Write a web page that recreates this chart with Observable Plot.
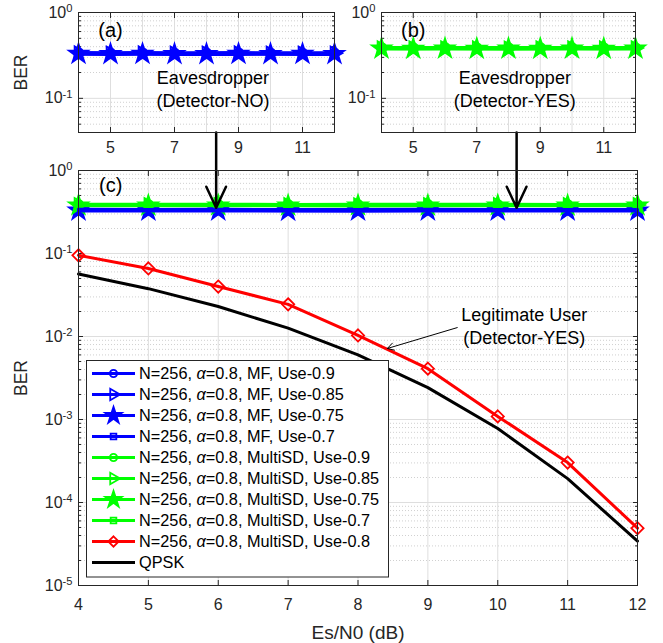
<!DOCTYPE html>
<html><head><meta charset="utf-8">
<script src="https://cdn.jsdelivr.net/npm/d3@7"></script>
<script src="https://cdn.jsdelivr.net/npm/@observablehq/plot@0.6"></script>
<style>
body{margin:0;background:#fff;}
#wrap{position:relative;width:663px;height:643px;overflow:hidden;font-family:"Liberation Sans",Arial,Helvetica,sans-serif;}
#wrap svg{position:absolute;}
</style></head><body><div id="wrap"></div>
<script>
// ---------- data ----------
const esn0 = [4, 5, 6, 7, 8, 9, 10, 11, 12];
const mfUse090 = [0.342, 0.340, 0.341, 0.339, 0.340, 0.341, 0.340, 0.339, 0.340];
const mfUse085 = [0.336, 0.335, 0.336, 0.334, 0.335, 0.336, 0.335, 0.334, 0.335];
const mfUse075 = [0.330, 0.329, 0.330, 0.328, 0.329, 0.330, 0.329, 0.330, 0.329];
const mfUse070 = [0.326, 0.325, 0.326, 0.325, 0.324, 0.325, 0.326, 0.325, 0.325];
const sdUse090 = [0.392, 0.391, 0.392, 0.390, 0.391, 0.392, 0.391, 0.390, 0.391];
const sdUse085 = [0.386, 0.385, 0.386, 0.385, 0.384, 0.385, 0.386, 0.385, 0.385];
const sdUse075 = [0.380, 0.379, 0.380, 0.379, 0.380, 0.379, 0.380, 0.379, 0.380];
const sdUse070 = [0.376, 0.375, 0.376, 0.375, 0.374, 0.375, 0.376, 0.375, 0.375];
const sdUse080 = [0.095, 0.066, 0.040, 0.0244, 0.0103, 0.0041, 0.00109, 0.000303, 0.000049];
const qpsk     = [0.0565, 0.0377, 0.0230, 0.0126, 0.0060, 0.00242, 0.00078, 0.000194, 0.0000343];
const seriesLabels = [
  "N=256, α=0.8, MF, Use-0.9",
  "N=256, α=0.8, MF, Use-0.85",
  "N=256, α=0.8, MF, Use-0.75",
  "N=256, α=0.8, MF, Use-0.7",
  "N=256, α=0.8, MultiSD, Use-0.9",
  "N=256, α=0.8, MultiSD, Use-0.85",
  "N=256, α=0.8, MultiSD, Use-0.75",
  "N=256, α=0.8, MultiSD, Use-0.7",
  "N=256, α=0.8, MultiSD, Use-0.8",
  "QPSK"
];
const seriesValues = [mfUse090, mfUse085, mfUse075, mfUse070, sdUse090, sdUse085, sdUse075, sdUse070, sdUse080, qpsk];
const mainXTicks = [4, 5, 6, 7, 8, 9, 10, 11, 12];
const panelXTicks = [5, 7, 9, 11];
const xLabel = "Es/N0 (dB)";
const yLabel = "BER";

// ---------- styles ----------
const FONT = '"Liberation Sans", Arial, Helvetica, sans-serif';
const AX = "#262626";
const GRID = "#dedede";
const MINOR = "#c4c4c4";
const TICKFS = 16, LABELFS = 19, NOTEFS = 18, TAGFS = 20, LEGFS = 16.3;
const styles = [
  {color: "#0000ff", symbol: "circle", r: 4.5, fill: "none"},
  {color: "#0000ff", symbol: "triangle", r: 5, fill: "none", rotate: 90},
  {color: "#0000ff", symbol: "star", r: 6, fill: "#0000ff"},
  {color: "#0000ff", symbol: "square", r: 4, fill: "none"},
  {color: "#00ff00", symbol: "circle", r: 4.5, fill: "none"},
  {color: "#00ff00", symbol: "triangle", r: 5, fill: "none", rotate: 90},
  {color: "#00ff00", symbol: "star", r: 6, fill: "#00ff00"},
  {color: "#00ff00", symbol: "square", r: 4, fill: "none"},
  {color: "#ff0000", symbol: "diamond2", r: 5.5, fill: "none"},
  {color: "#000000", symbol: null}
];
const rowsOf = i => esn0.map((x, j) => ({x, y: seriesValues[i][j]}));

function lineMark(i, w = 3) {
  return Plot.line(rowsOf(i), {x: "x", y: "y", stroke: styles[i].color, strokeWidth: w});
}
function dotMark(i) {
  const s = styles[i];
  return Plot.dot(rowsOf(i), {x: "x", y: "y", symbol: () => s.symbol, r: s.r, stroke: s.color, fill: s.fill,
    strokeWidth: 1.8, rotate: s.rotate || 0});
}
function minorTicks(loExp, hiExp, lo) {
  const out = [];
  for (let e = loExp; e < hiExp; e++) for (let k = 2; k <= 9; k++) { const v = k * Math.pow(10, e); if (v >= lo) out.push(v); }
  return out;
}
const supFmt = d => "10^" + Math.round(Math.log10(d));
function fixSup(svg) {
  svg.querySelectorAll("text").forEach(t => {
    const m = /^10\^(-?\d+)$/.exec(t.textContent.trim());
    if (!m) return;
    t.textContent = "";
    const ns = "http://www.w3.org/2000/svg";
    const a = document.createElementNS(ns, "tspan"); a.textContent = "10"; t.appendChild(a);
    const b = document.createElementNS(ns, "tspan"); b.textContent = m[1];
    b.setAttribute("dy", "-0.5em"); b.setAttribute("font-size", "0.7em"); t.appendChild(b);
  });
}
function place(svg, left, top) {
  svg.style.left = left + "px"; svg.style.top = top + "px";
  fixSup(svg);
  document.getElementById("wrap").appendChild(svg);
}
const blank = () => "";

// ---------- main panel (c) ----------
const yMajor = [1e-5, 1e-4, 1e-3, 1e-2, 1e-1, 1];
const yMinor = minorTicks(-5, 0, 1e-5);
const main = Plot.plot({
  width: 663, height: 643,
  marginTop: 170, marginBottom: 58, marginLeft: 78, marginRight: 26,
  style: {fontFamily: FONT, fontSize: TICKFS + "px", color: AX, background: "transparent", overflow: "visible"},
  x: {domain: [4, 12]},
  y: {type: "log", domain: [1e-5, 1]},
  marks: [
    Plot.ruleY(yMinor, {stroke: MINOR, strokeDasharray: "1,2", strokeWidth: 0.8}),
    Plot.ruleX(mainXTicks, {stroke: GRID}),
    Plot.ruleY(yMajor, {stroke: GRID}),
    Plot.axisX({ticks: mainXTicks, tickSize: -5, tickPadding: 18, fontSize: TICKFS, tickFormat: d => String(d), label: null}),
    Plot.axisX({ticks: [], tickSize: 0, fontSize: LABELFS, label: xLabel, labelAnchor: "center", labelOffset: 53, labelArrow: "none"}),
    Plot.axisX({anchor: "top", ticks: mainXTicks, tickSize: -5, tickFormat: blank, label: null}),
    Plot.axisY({ticks: yMajor, tickSize: -5, tickPadding: 11, fontSize: TICKFS, tickFormat: supFmt, label: null}),
    Plot.axisY({ticks: [], tickSize: 0, fontSize: LABELFS - 1.5, label: yLabel, labelAnchor: "center", labelOffset: 64, labelArrow: "none"}),
    Plot.axisY({ticks: yMinor, tickSize: -3, tickFormat: blank, label: null}),
    Plot.axisY({anchor: "right", ticks: yMajor, tickSize: -5, tickFormat: blank, label: null}),
    Plot.axisY({anchor: "right", ticks: yMinor, tickSize: -3, tickFormat: blank, label: null}),
    [0, 1, 2, 3].map(i => dotMark(i)),
    [4, 5, 6, 7].map(i => lineMark(i)),
    [4, 5, 6, 7].map(i => dotMark(i)),
    [0, 1, 2, 3].map(i => lineMark(i)),
    lineMark(9),
    lineMark(8),
    dotMark(8),
    Plot.text(["(c)"], {x: 4.46, y: 0.66, fontSize: TAGFS, fill: "#000"}),
    Plot.text(["Legitimate User"], {x: 10.38, y: 0.0179, fontSize: NOTEFS, fill: "#000"}),
    Plot.text(["(Detector-YES)"], {x: 10.38, y: 0.00946, fontSize: NOTEFS, fill: "#000"}),
    Plot.arrow([{x1: 9.42, y1: 0.0128, x2: 8.42, y2: 0.00717}], {x1: "x1", y1: "y1", x2: "x2", y2: "y2",
      stroke: "#000", strokeWidth: 1, headLength: 11, insetEnd: 0, insetStart: 0}),
    Plot.arrow([{x1: 5.97, y1: 2.87, x2: 5.97, y2: 0.355}, {x1: 10.27, y1: 2.87, x2: 10.27, y2: 0.355}],
      {x1: "x1", y1: "y1", x2: "x2", y2: "y2", stroke: "#000", strokeWidth: 2.5, headLength: 14, headAngle: 50, insetEnd: 0, insetStart: 0}),
    Plot.frame({stroke: AX})
  ]
});
place(main, 0, 0);

// ---------- top panels (a), (b) ----------
const pMajor = [0.1, 1];
const pMinor = minorTicks(-2, 0, 0.04);
function panel(group, tag, line2, o) {
  return Plot.plot({
    width: o.width, height: 170, marginTop: 12, marginBottom: 38, marginLeft: o.ml, marginRight: o.mr,
    style: {fontFamily: FONT, fontSize: TICKFS + "px", color: AX, background: "transparent", overflow: "visible"},
    x: {domain: [4, 12]},
    y: {type: "log", domain: [0.04, 1]},
    marks: [
      Plot.ruleY(pMinor, {stroke: MINOR, strokeDasharray: "1,2", strokeWidth: 0.8}),
      Plot.ruleX(mainXTicks, {stroke: GRID}),
      Plot.ruleY(pMajor, {stroke: GRID}),
      Plot.axisX({ticks: panelXTicks, tickSize: -5, tickPadding: 14.5, fontSize: TICKFS, tickFormat: d => String(d), label: null}),
      Plot.axisX({anchor: "top", ticks: panelXTicks, tickSize: -5, tickFormat: blank, label: null}),
      Plot.axisY({ticks: pMajor, tickSize: -5, tickPadding: 11, fontSize: TICKFS, tickFormat: supFmt, label: null}),
      o.ylabel ? Plot.axisY({ticks: [], tickSize: 0, fontSize: LABELFS - 1.5, label: yLabel, labelAnchor: "center", labelOffset: 64, labelArrow: "none"}) : null,
      Plot.axisY({ticks: pMinor, tickSize: -3, tickFormat: blank, label: null}),
      Plot.axisY({anchor: "right", ticks: pMajor, tickSize: -5, tickFormat: blank, label: null}),
      Plot.axisY({anchor: "right", ticks: pMinor, tickSize: -3, tickFormat: blank, label: null}),
      group.map(i => lineMark(i)),
      group.map(i => dotMark(i)),
      Plot.text([tag], {x: 5.0, y: 0.617, fontSize: TAGFS, fill: "#000"}),
      Plot.text(["Eavesdropper"], {x: 8.2, y: 0.171, fontSize: NOTEFS, fill: "#000"}),
      Plot.text([line2], {x: 8.2, y: 0.0925, fontSize: NOTEFS, fill: "#000"}),
      Plot.frame({stroke: AX})
    ]
  });
}
place(panel([0, 1, 2, 3], "(a)", "(Detector-NO)", {width: 340, ml: 78, mr: 6, ylabel: true}), 0, 0);
place(panel([4, 5, 6, 7], "(b)", "(Detector-YES)", {width: 323, ml: 41, mr: 28, ylabel: false}), 340, 0);

// ---------- legend ----------
const symMap = {circle: d3.symbolCircle, triangle: d3.symbolTriangle, star: d3.symbolStar, square: d3.symbolSquare, diamond2: d3.symbolDiamond2};
const leg = d3.select("#wrap").append("svg").attr("width", 663).attr("height", 643)
  .style("left", "0px").style("top", "0px").style("font-family", FONT);
leg.append("rect").attr("x", 86.5).attr("y", 360.5).attr("width", 302).attr("height", 216.5)
  .attr("fill", "#fff").attr("stroke", AX).attr("stroke-width", 1);
seriesLabels.forEach((lab, i) => {
  const cy = 373.5 + i * 21, s = styles[i];
  const g = leg.append("g");
  g.append("line").attr("x1", 92).attr("x2", 135).attr("y1", cy).attr("y2", cy)
    .attr("stroke", s.color).attr("stroke-width", 3);
  if (s.symbol) {
    g.append("path").attr("d", d3.symbol(symMap[s.symbol], Math.PI * (s.r - 0.8) * (s.r - 0.8))())
      .attr("transform", `translate(113.5,${cy}) rotate(${s.rotate || 0})`)
      .attr("fill", s.fill).attr("stroke", s.color).attr("stroke-width", 1.8);
  }
  const t = g.append("text").attr("x", 139).attr("y", cy).attr("dy", "0.36em")
    .attr("font-size", LEGFS).attr("fill", "#000");
  const parts = lab.split("α");
  parts.forEach((p, k) => {
    if (k > 0) t.append("tspan").attr("font-style", "italic").text("α");
    t.append("tspan").text(p);
  });
});
</script></body></html>
